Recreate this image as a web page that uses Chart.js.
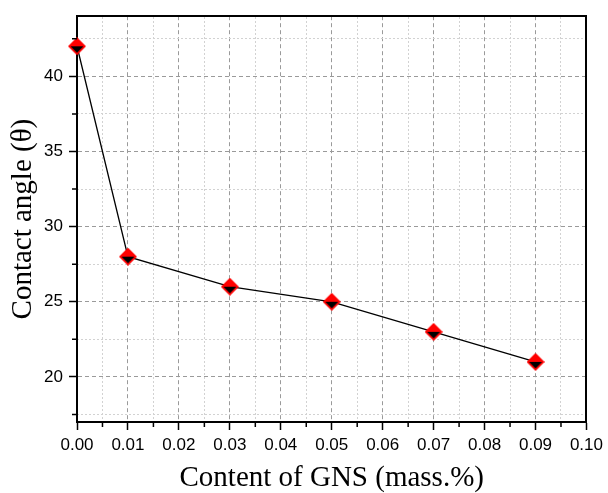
<!DOCTYPE html>
<html>
<head>
<meta charset="utf-8">
<script src="https://cdn.jsdelivr.net/npm/chart.js@4"></script>
<style>
html, body { margin: 0; padding: 0; background: #fff; }
#wrap { width: 608px; height: 493px; }
</style>
</head>
<body>
<div id="wrap"><canvas id="chart" width="608" height="493"></canvas></div>
<script>
// values
const contents = [0, 0.01, 0.03, 0.05, 0.07, 0.09];
const angles = [42, 28, 26, 25, 23, 21];

const xTicks = [0, 0.01, 0.02, 0.03, 0.04, 0.05, 0.06, 0.07, 0.08, 0.09, 0.10];
const xTickLabels = ['0.00', '0.01', '0.02', '0.03', '0.04', '0.05', '0.06', '0.07', '0.08', '0.09', '0.10'];
const xMinorTicks = [0.005, 0.015, 0.025, 0.035, 0.045, 0.055, 0.065, 0.075, 0.085, 0.095];
const yTicks = [20, 25, 30, 35, 40];
const yMinorTicks = [17.5, 22.5, 27.5, 32.5, 37.5, 42.5];

const tickFont = { family: "'Liberation Sans', Arial, sans-serif", size: 17 };
const titleFont = { family: "'Liberation Serif', 'Times New Roman', serif", size: 29, lineHeight: 1 };

// red diamond with a black lower half
function makeMarker() {
    const s = 18, m = s / 2;
    const c = document.createElement('canvas');
    c.width = s; c.height = s;
    const g = c.getContext('2d');
    g.fillStyle = '#ff0000';
    g.beginPath();
    g.moveTo(m, 0); g.lineTo(s, m); g.lineTo(m, s); g.lineTo(0, m);
    g.closePath();
    g.fill();
    g.fillStyle = '#000';
    g.beginPath();
    g.moveTo(2.5, m); g.lineTo(s - 2.5, m); g.lineTo(m, s - 2.5);
    g.closePath();
    g.fill();
    return c;
}

// short outward minor tick marks on left and bottom axes
const minorTickMarks = {
    id: 'minorTickMarks',
    afterDraw(chart) {
        const { ctx, chartArea: a, scales: { x, y } } = chart;
        ctx.save();
        ctx.strokeStyle = '#000';
        ctx.lineWidth = 1.5;
        ctx.beginPath();
        xMinorTicks.forEach(v => {
            const px = x.getPixelForValue(v);
            ctx.moveTo(px, a.bottom);
            ctx.lineTo(px, a.bottom + 5);
        });
        yMinorTicks.forEach(v => {
            const py = y.getPixelForValue(v);
            ctx.moveTo(a.left, py);
            ctx.lineTo(a.left - 5, py);
        });
        ctx.stroke();
        ctx.restore();
    }
};

const ctx = document.getElementById('chart').getContext('2d');

new Chart(ctx, {
    type: 'line',
    data: {
        datasets: [{
            data: contents.map((c, i) => ({ x: c, y: angles[i] })),
            xAxisID: 'x',
            yAxisID: 'y',
            borderColor: '#000',
            borderWidth: 1.3,
            tension: 0,
            pointStyle: makeMarker(),
            clip: false
        }]
    },
    options: {
        responsive: false,
        animation: false,
        layout: { padding: { top: 10, right: 19, left: 0, bottom: 0 } },
        plugins: {
            legend: { display: false },
            tooltip: { enabled: false }
        },
        scales: {
            x: {
                type: 'linear',
                axis: 'x',
                position: 'bottom',
                min: 0,
                max: 0.1,
                afterBuildTicks: s => { s.ticks = xTicks.map(v => ({ value: v })); },
                afterFit: s => { s.height = 71; },
                ticks: {
                    callback: (v, i) => xTickLabels[i],
                    autoSkip: false,
                    maxRotation: 0,
                    font: tickFont,
                    color: '#000',
                    padding: 5
                },
                grid: { color: '#9a9a9a', lineWidth: 1, tickColor: '#000', tickLength: 8, tickWidth: 1.5 },
                border: { color: '#000', width: 2, dash: [4, 3] },
                title: {
                    display: true,
                    text: 'Content of GNS (mass.%)',
                    font: titleFont,
                    color: '#000',
                    padding: { top: 0, bottom: 0 }
                }
            },
            x2: {
                type: 'linear',
                axis: 'x',
                position: 'top',
                min: 0,
                max: 0.1,
                afterBuildTicks: s => { s.ticks = xMinorTicks.map(v => ({ value: v })); },
                afterFit: s => { s.height = 0; },
                ticks: { display: false },
                grid: { color: '#d2d2d2', lineWidth: 1, drawTicks: false },
                border: { color: '#000', width: 2, dash: [2, 2] }
            },
            y: {
                type: 'linear',
                axis: 'y',
                position: 'left',
                min: 17,
                max: 44,
                afterBuildTicks: s => { s.ticks = yTicks.map(v => ({ value: v })); },
                afterFit: s => { s.width = 77; },
                ticks: { font: tickFont, color: '#000', padding: 6 },
                grid: { color: '#9a9a9a', lineWidth: 1, tickColor: '#000', tickLength: 8, tickWidth: 1.5 },
                border: { color: '#000', width: 2, dash: [4, 3] },
                title: {
                    display: true,
                    text: 'Contact angle (θ)',
                    font: titleFont,
                    color: '#000',
                    padding: { top: 9, bottom: 0 }
                }
            },
            y2: {
                type: 'linear',
                axis: 'y',
                position: 'right',
                min: 17,
                max: 44,
                afterBuildTicks: s => { s.ticks = yMinorTicks.map(v => ({ value: v })); },
                afterFit: s => { s.width = 0; },
                ticks: { display: false },
                grid: { color: '#d2d2d2', lineWidth: 1, drawTicks: false },
                border: { color: '#000', width: 2, dash: [2, 2] }
            }
        }
    },
    plugins: [minorTickMarks]
});
</script>
</body>
</html>
